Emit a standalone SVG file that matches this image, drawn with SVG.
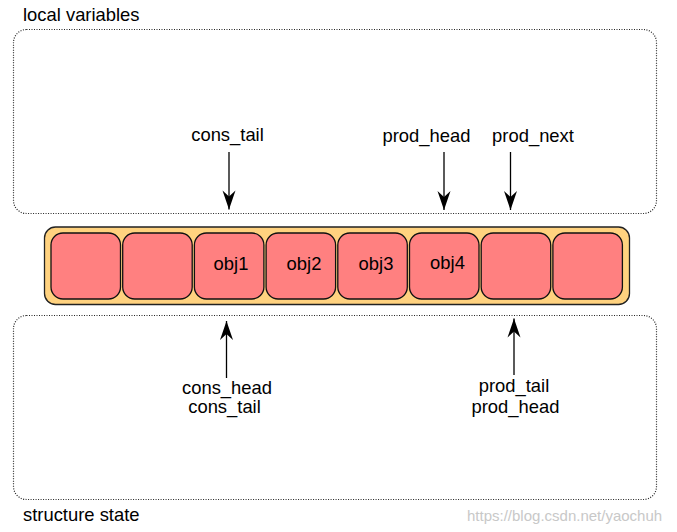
<svg xmlns="http://www.w3.org/2000/svg" width="677" height="532" viewBox="0 0 677 532">
<defs>
<style>
text{font-family:"Liberation Sans",Arial,sans-serif;font-size:18.4px;fill:#000}
.lbl{text-anchor:middle}
.region{fill:none;stroke:#222;stroke-width:1.2;stroke-dasharray:1 1.5}
.cell{fill:#FF8080;stroke:#111;stroke-width:1.3}
.ring{fill:#FFD27F;stroke:#222;stroke-width:1.3}
.conn{stroke:#000;stroke-width:1.3;fill:none}
.wm{font-size:15px;fill:#c8c8c8}
</style>
<marker id="ah" viewBox="-20 -8 22 16" refX="0" refY="0" markerWidth="22" markerHeight="16" markerUnits="userSpaceOnUse" orient="auto">
<path d="M0,0 L-19,-6.5 L-13,0 L-19,6.5 Z" fill="#000"/>
</marker>
</defs>
<g id="local-variables">
<rect class="region" x="13.5" y="29.5" width="643" height="184" rx="13"/>
<text x="23" y="21">local variables</text>
</g>
<g id="structure-state">
<rect class="region" x="13.5" y="315.5" width="643" height="184" rx="13"/>
<text x="23" y="521">structure state</text>
</g>
<g id="ring">
<rect class="ring" x="44.5" y="227" width="585" height="77.5" rx="11"/>
</g>
<g id="slot0"><rect class="cell" x="51" y="233" width="69.5" height="66" rx="12"/></g>
<g id="slot1"><rect class="cell" x="122.7" y="233" width="69.5" height="66" rx="12"/></g>
<g id="slot2"><rect class="cell" x="194.4" y="233" width="69.5" height="66" rx="12"/><text class="lbl" x="231" y="270">obj1</text></g>
<g id="slot3"><rect class="cell" x="266.1" y="233" width="69.5" height="66" rx="12"/><text class="lbl" x="304" y="270">obj2</text></g>
<g id="slot4"><rect class="cell" x="337.8" y="233" width="69.5" height="66" rx="12"/><text class="lbl" x="376" y="270">obj3</text></g>
<g id="slot5"><rect class="cell" x="409.5" y="233" width="69.5" height="66" rx="12"/><text class="lbl" x="447.5" y="268.5">obj4</text></g>
<g id="slot6"><rect class="cell" x="481.2" y="233" width="69.5" height="66" rx="12"/></g>
<g id="slot7"><rect class="cell" x="552.9" y="233" width="69.5" height="66" rx="12"/></g>
<g id="labels">
<text class="lbl" x="227.5" y="141">cons_tail</text>
<text class="lbl" x="426.5" y="142">prod_head</text>
<text class="lbl" x="533" y="142">prod_next</text>
<text class="lbl" x="227" y="394">cons_head</text>
<text class="lbl" x="224.5" y="413">cons_tail</text>
<text class="lbl" x="514" y="391.5">prod_tail</text>
<text class="lbl" x="515.5" y="413">prod_head</text>
</g>
<g id="connectors">
<line class="conn" x1="229" y1="152" x2="229" y2="209.5" marker-end="url(#ah)"/>
<line class="conn" x1="444" y1="152" x2="444" y2="210" marker-end="url(#ah)"/>
<line class="conn" x1="510.5" y1="152" x2="510.5" y2="210" marker-end="url(#ah)"/>
<line class="conn" x1="226.5" y1="378" x2="226.5" y2="321" marker-end="url(#ah)"/>
<line class="conn" x1="514" y1="375" x2="514" y2="318.5" marker-end="url(#ah)"/>
</g>
<text class="wm" x="467" y="521">https://blog.csdn.net/yaochuh</text>
</svg>
